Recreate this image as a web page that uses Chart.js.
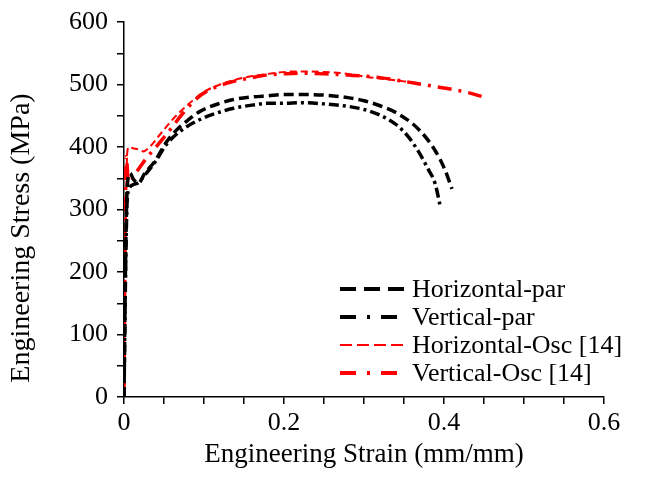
<!DOCTYPE html>
<html>
<head>
<meta charset="utf-8">
<script src="https://cdn.jsdelivr.net/npm/chart.js@4.4.1/dist/chart.umd.min.js"></script>
<style>
  html, body { margin: 0; padding: 0; background: #fff; }
  #wrap { width: 652px; height: 487px; }
</style>
</head>
<body>
<div id="wrap"><canvas id="chart" width="652" height="487"></canvas></div>
<script>
// Valeurs (déformation en mm/mm, contrainte en MPa)
const horizParStrain = [0, 0.002, 0.004, 0.0075, 0.012, 0.018, 0.026, 0.039, 0.052, 0.064, 0.08, 0.095, 0.12, 0.137, 0.16, 0.18, 0.2, 0.22, 0.25, 0.28, 0.3, 0.32, 0.34, 0.36, 0.37, 0.38, 0.39, 0.4, 0.41];
const horizParStress = [0, 220, 335, 358, 348, 342, 358, 378, 406, 425, 443, 457, 470, 476, 480, 482, 484, 484, 483, 479, 474, 466, 455, 438, 426, 411, 392, 367, 333];

const vertParStrain = [0, 0.002, 0.004, 0.007, 0.012, 0.018, 0.026, 0.04, 0.053, 0.07, 0.095, 0.12, 0.137, 0.16, 0.18, 0.2, 0.22, 0.25, 0.28, 0.3, 0.32, 0.34, 0.355, 0.368, 0.38, 0.389, 0.395];
const vertParStress = [0, 200, 315, 335, 340, 343, 355, 378, 404, 425, 444, 456, 462, 467, 470, 470, 471, 469, 465, 460, 451, 436, 417, 393, 365, 341, 307];

const horizOscStrain = [0, 0.002, 0.004, 0.006, 0.011, 0.018, 0.024, 0.032, 0.045, 0.06, 0.08, 0.1, 0.12, 0.15, 0.18, 0.216, 0.25, 0.28, 0.304, 0.33, 0.35, 0.37];
const horizOscStress = [0, 250, 390, 400, 398, 396, 393, 400, 420, 443, 468, 488, 500, 511, 517, 521, 520, 517, 512, 508, 505, 502];

const vertOscStrain = [0, 0.001, 0.003, 0.005, 0.008, 0.013, 0.02, 0.028, 0.04, 0.053, 0.075, 0.095, 0.115, 0.137, 0.16, 0.178, 0.2, 0.22, 0.25, 0.28, 0.32, 0.35, 0.383, 0.411, 0.43, 0.447];
const vertOscStress = [0, 200, 385, 350, 345, 355, 368, 382, 400, 420, 456, 482, 496, 505, 511, 515, 517, 518, 517, 515, 511, 505, 498, 492, 487, 481];

const seriesNames = ['Horizontal-par', 'Vertical-par', 'Horizontal-Osc [14]', 'Vertical-Osc [14]'];

const xTicks = [0, 0.2, 0.4, 0.6];
const yTicks = [0, 100, 200, 300, 400, 500, 600];

function toPoints(xs, ys) {
  return xs.map((x, i) => ({ x: x, y: ys[i] }));
}

const FONT = "'Liberation Serif', 'Times New Roman', serif";

// Légende dessinée à l'intérieur de la zone du graphique + titre de l'axe Y
const insideLegend = {
  id: 'insideLegend',
  afterDraw(chart) {
    const ctx = chart.ctx;
    const x0 = 340, y0 = 289, step = 28, len = 65;
    ctx.save();
    chart.data.datasets.forEach((ds, i) => {
      const y = y0 + i * step;
      ctx.beginPath();
      ctx.strokeStyle = ds.borderColor;
      ctx.lineWidth = ds.legendWidth || ds.borderWidth;
      ctx.setLineDash(ds.legendDash || ds.borderDash || []);
      ctx.moveTo(x0, y);
      ctx.lineTo(x0 + len, y);
      ctx.stroke();
      ctx.setLineDash([]);
      ctx.fillStyle = '#000';
      ctx.font = '26px ' + FONT;
      ctx.textBaseline = 'middle';
      ctx.fillText(ds.label, x0 + len + 7, y + 1);
    });

    // titre vertical, un peu plus bas que le centre comme sur la figure
    ctx.translate(22, 238);
    ctx.rotate(-Math.PI / 2);
    ctx.font = '28px ' + FONT;
    ctx.textAlign = 'center';
    ctx.textBaseline = 'middle';
    ctx.fillStyle = '#000';
    ctx.fillText('Engineering Stress (MPa)', 0, 0);
    ctx.restore();
  }
};

const ctx = document.getElementById('chart').getContext('2d');
new Chart(ctx, {
  type: 'scatter',
  data: {
    datasets: [{
      label: seriesNames[0],
      data: toPoints(horizParStrain, horizParStress),
      borderColor: '#000',
      borderWidth: 3.5,
      borderDash: [10, 5],
      legendWidth: 4,
      legendDash: [16, 8],
    }, {
      label: seriesNames[1],
      data: toPoints(vertParStrain, vertParStress),
      borderColor: '#000',
      borderWidth: 3.5,
      borderDash: [10, 4, 3, 4],
      legendWidth: 4,
      legendDash: [16, 11, 3, 11],
    }, {
      label: seriesNames[2],
      data: toPoints(horizOscStrain, horizOscStress),
      borderColor: '#ff0000',
      borderWidth: 2,
      borderDash: [7, 4],
      legendDash: [12, 5],
    }, {
      label: seriesNames[3],
      data: toPoints(vertOscStrain, vertOscStress),
      borderColor: '#ff0000',
      borderWidth: 3.5,
      borderDash: [14, 7, 3, 7],
      legendWidth: 4,
      legendDash: [16, 11, 3, 11],
    }].map(d => Object.assign(d, {
      showLine: true,
      pointRadius: 0,
      fill: false,
      cubicInterpolationMode: 'monotone'
    }))
  },
  options: {
    responsive: false,
    animation: false,
    layout: { padding: { top: 20, right: 48, left: 0, bottom: 0 } },
    plugins: {
      legend: { display: false },
      tooltip: { enabled: false }
    },
    scales: {
      x: {
        type: 'linear',
        min: 0,
        max: 0.6,
        afterBuildTicks(scale) {
          const t = [];
          for (let i = 0; i <= 12; i++) t.push({ value: i * 0.05 });
          scale.ticks = t;
        },
        afterFit(scale) { scale.height = 90; },
        ticks: {
          autoSkip: false,
          maxRotation: 0,
          color: '#000',
          font: { family: FONT, size: 26, lineHeight: 1 },
          padding: 6,
          callback(v) {
            const hit = xTicks.find(t => Math.abs(t - v) < 1e-6);
            return hit === undefined ? '' : String(hit);
          }
        },
        grid: { drawOnChartArea: false, drawTicks: true, tickLength: 7, color: '#000', lineWidth: 1.5 },
        border: { display: true, color: '#000', width: 1.5 },
        title: {
          display: true,
          text: 'Engineering Strain (mm/mm)',
          color: '#000',
          font: { family: FONT, size: 27 },
          padding: { top: 0, bottom: 16 }
        }
      },
      y: {
        type: 'linear',
        min: 0,
        max: 600,
        afterBuildTicks(scale) {
          const t = [];
          for (let i = 0; i <= 12; i++) t.push({ value: i * 50 });
          scale.ticks = t;
        },
        afterFit(scale) { scale.width = 124; },
        ticks: {
          autoSkip: false,
          color: '#000',
          font: { family: FONT, size: 26, lineHeight: 1 },
          padding: 9,
          callback(v) {
            return yTicks.includes(v) ? String(v) : '';
          }
        },
        grid: { drawOnChartArea: false, drawTicks: true, tickLength: 7, color: '#000', lineWidth: 1.5 },
        border: { display: true, color: '#000', width: 1.5 },
        title: { display: false }
      }
    }
  },
  plugins: [insideLegend]
});
</script>
</body>
</html>
